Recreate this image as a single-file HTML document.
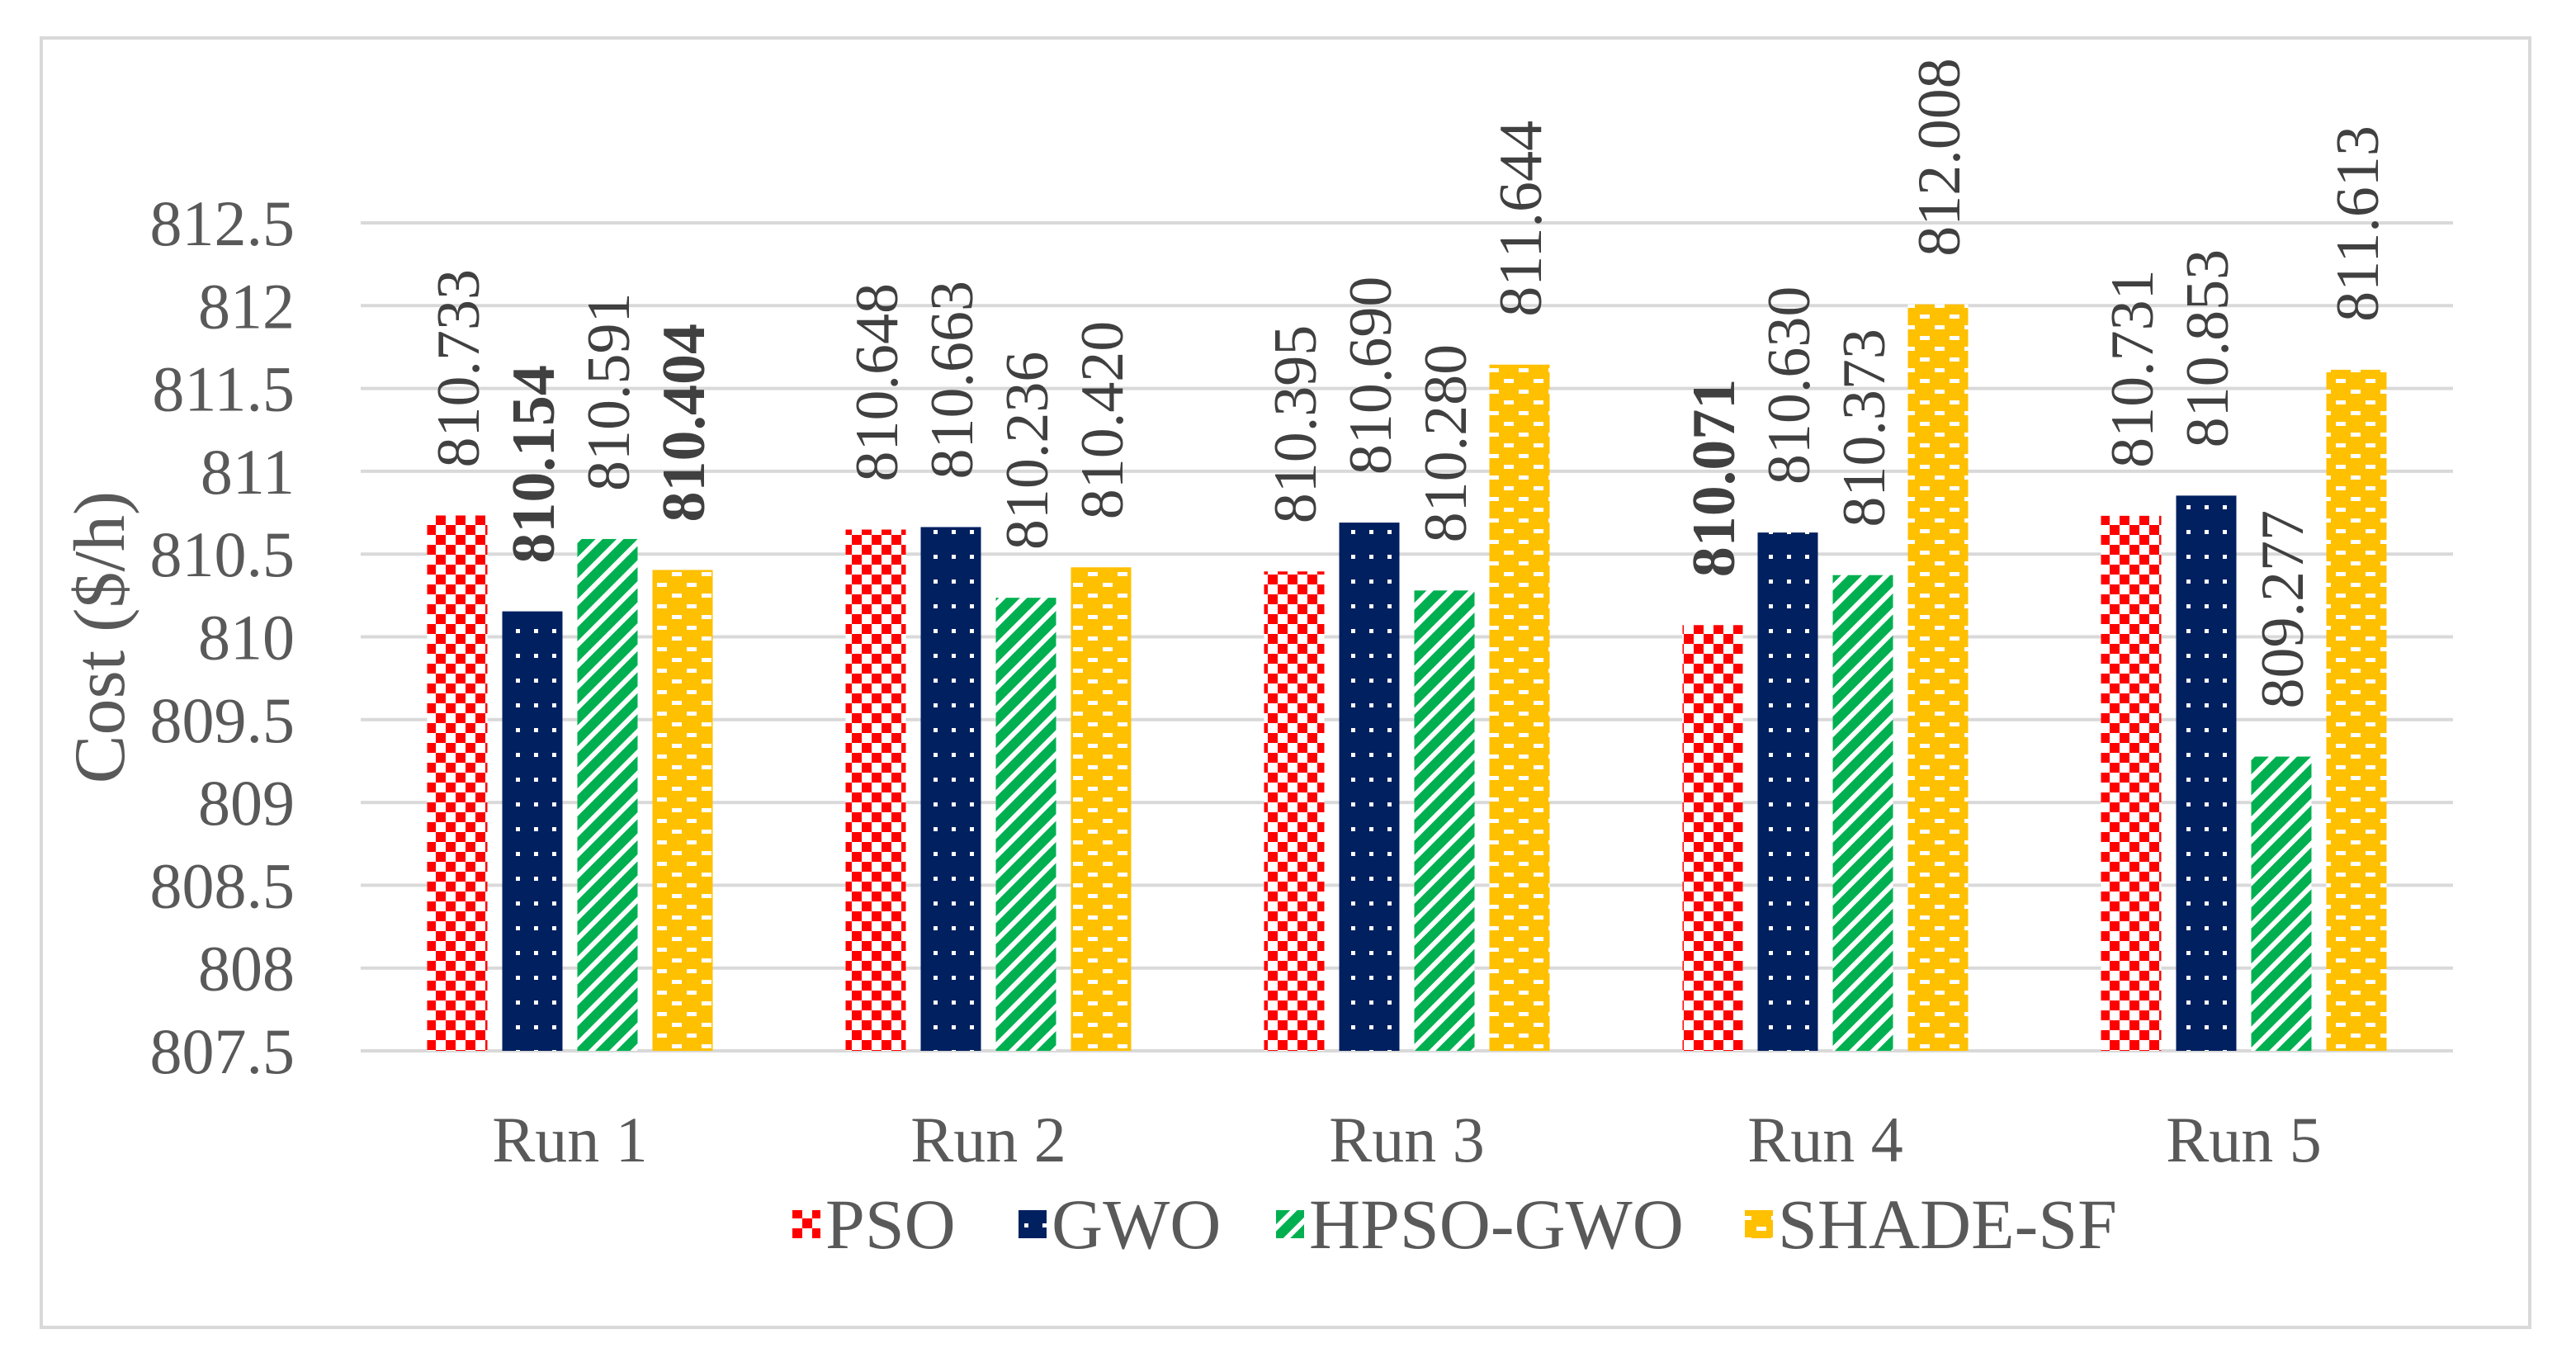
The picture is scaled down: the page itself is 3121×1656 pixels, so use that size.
<!DOCTYPE html>
<html><head><meta charset="utf-8"><style>
html,body{margin:0;padding:0;background:#fff;}
svg{display:block;font-family:"Liberation Serif",serif;}
</style></head><body>
<svg id="chart" width="3121" height="1656" viewBox="0 0 3121 1656" xmlns="http://www.w3.org/2000/svg">
<defs>
<pattern id="pPSO" width="24" height="24" patternUnits="userSpaceOnUse"><rect width="24" height="24" fill="#fff"/><rect width="12" height="12" fill="#FF0000"/><rect x="12" y="12" width="12" height="12" fill="#FF0000"/></pattern>
<pattern id="pGWO" width="22" height="30" patternUnits="userSpaceOnUse"><rect width="22" height="30" fill="#002060"/><rect x="9" y="12" width="5" height="5" fill="#fff"/></pattern>
<pattern id="pHPSO" width="18" height="18" patternUnits="userSpaceOnUse" patternTransform="rotate(45)"><rect width="18" height="18" fill="#00B050"/><rect width="6" height="18" fill="#fff"/></pattern>
<pattern id="pSHADE" width="36" height="26" patternUnits="userSpaceOnUse"><rect width="36" height="26" fill="#FFC000"/><rect x="4" y="4" width="12" height="5" fill="#fff"/><rect x="22" y="17" width="12" height="5" fill="#fff"/></pattern>
</defs>
<rect x="50" y="46" width="3015" height="1562" fill="#fff" stroke="#d9d9d9" stroke-width="4"/>
<g id="grid"></g><g id="bars"></g><g id="labels"></g>
<text x="150" y="772" transform="rotate(-90 150 772)" text-anchor="middle" font-size="88" fill="#595959">Cost ($/h)</text>
<g id="legend"></g>
</svg>
<script>
const categories = ["Run 1","Run 2","Run 3","Run 4","Run 5"];
const seriesNames = ["PSO","GWO","HPSO-GWO","SHADE-SF"];
const psoValues = [810.733,810.648,810.395,810.071,810.731];
const gwoValues = [810.154,810.663,810.690,810.630,810.853];
const hpsoValues = [810.591,810.236,810.280,810.373,809.277];
const shadeValues = [810.404,810.420,811.644,812.008,811.613];
const yTicks = [807.5,808,808.5,809,809.5,810,810.5,811,811.5,812,812.5];
const boldLabels = [[false,true,false,true],[false,false,false,false],[false,false,false,false],[true,false,false,false],[false,false,false,false]];
const series = [psoValues,gwoValues,hpsoValues,shadeValues];
const fills = ["url(#pPSO)","url(#pGWO)","url(#pHPSO)","url(#pSHADE)"];
const NS="http://www.w3.org/2000/svg";
const plotL=437, plotR=2972, yTop=270, yBot=1273, yMin=807.5, yMax=812.5;
function y(v){return yBot-(v-yMin)/(yMax-yMin)*(yBot-yTop);}
const band=(plotR-plotL)/categories.length;
function xc(i){return plotL+band*(i+0.5);}
const barW=73, pitch=91;
function mk(tag,attrs,parent){const e=document.createElementNS(NS,tag);for(const k in attrs)e.setAttribute(k,attrs[k]);parent.appendChild(e);return e;}
const grid=document.getElementById('grid'), bars=document.getElementById('bars'), labels=document.getElementById('labels'), legend=document.getElementById('legend');
yTicks.forEach(t=>{
  const l=mk('line',{x1:plotL,x2:plotR,y1:y(t),y2:y(t),stroke:'#d9d9d9','stroke-width':4},grid);
  
  
  const tx=mk('text',{x:357,y:y(t)+27,'text-anchor':'end','font-size':78,fill:'#595959'},grid);
  tx.textContent=String(t);
  
  
});
categories.forEach((c,i)=>{
  const tx=mk('text',{x:xc(i),y:1407,'text-anchor':'middle','font-size':78,fill:'#595959'},labels);
  tx.textContent=c;
  
  
  series.forEach((s,j)=>{
    const cx=xc(i)+(j-1.5)*pitch, top=y(s[i]);
    const r=mk('rect',{x:cx-barW/2,y:top,width:barW,height:yBot-top,fill:fills[j]},bars);
    
    
    const ly=top-58;
    const t=mk('text',{x:cx+26,y:ly,transform:'rotate(-90 '+(cx+26)+' '+ly+')','font-size':74,fill:'#404040','font-weight':boldLabels[i][j]?'bold':'normal'},labels);
    t.textContent=s[i].toFixed(3);
    
    
  });
});
const legX=[960,1234,1546,2114];
seriesNames.forEach((n,j)=>{
  const r=mk('rect',{x:legX[j],y:1466,width:34,height:34,fill:fills[j]},legend);
  
  
  const t=mk('text',{x:legX[j]+40,y:1512,'font-size':86,fill:'#595959'},legend);
  t.textContent=n;
  
  
});
</script>
</body></html>
